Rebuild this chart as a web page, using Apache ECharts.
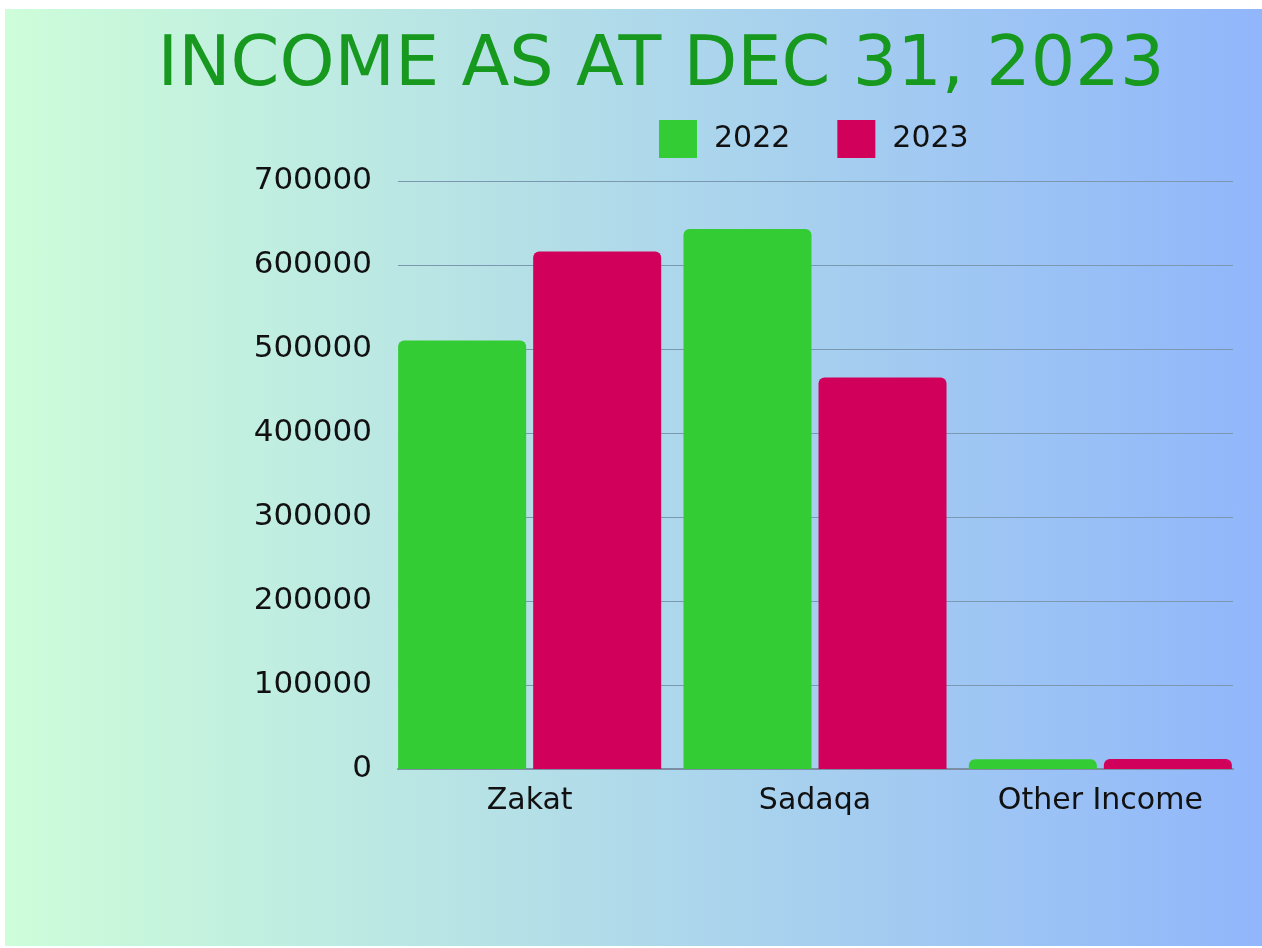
<!DOCTYPE html>
<html><head><meta charset="utf-8">
<script src="https://cdn.jsdelivr.net/npm/echarts/dist/echarts.min.js"></script>
<style>
html,body{margin:0;padding:0;background:#fff;overflow:hidden;}
#bg{position:absolute;left:5px;top:9px;width:1257px;height:937px;background:linear-gradient(to right,#cdfdd9,#91b6fb);}
#chart{position:absolute;left:0;top:0;width:1262px;height:948px;}
</style></head><body>
<div id="bg"></div><div id="chart"></div>
<script>
const titleText = 'INCOME AS AT DEC 31, 2023';
const categories = ['Zakat', 'Sadaqa', 'Other Income'];
const seriesNames = ['2022', '2023'];
const values2022 = [510000, 643000, 11500];
const values2023 = [616000, 466000, 12000];
const yMin = 0, yMax = 700000, yInterval = 100000;

const FONT = 'DejaVu Sans';
const chart = echarts.init(document.getElementById('chart'), null, {renderer: 'canvas'});
chart.setOption({
  backgroundColor: 'transparent',
  animation: false,
  title: {
    text: titleText,
    left: 656, top: 27, textAlign: 'center',
    textStyle: {fontFamily: FONT, fontSize: 70, fontWeight: 'normal', color: '#17981f'}
  },
  legend: {
    data: seriesNames,
    left: 654, top: 115,
    itemWidth: 38, itemHeight: 38, itemGap: 47,
    icon: 'rect',
    textStyle: {fontFamily: FONT, fontSize: 30, color: '#111', padding: [0, 0, 0, 12]}
  },
  grid: [
    {left: 398, right: 29, top: 181, bottom: 179},
    {left: 387, right: 19, top: 181, bottom: 179}
  ],
  xAxis: [
    {type: 'category', gridIndex: 0, data: categories,
     axisLabel: {show: false}, axisTick: {show: false},
     axisLine: {lineStyle: {color: '#7b8ea6', width: 2}}},
    {type: 'category', gridIndex: 1, data: categories,
     axisLine: {show: false}, axisTick: {show: false},
     axisLabel: {fontFamily: FONT, fontSize: 30, color: '#111', margin: 17}}
  ],
  yAxis: [
    {type: 'value', gridIndex: 0, min: yMin, max: yMax, interval: yInterval,
     axisLine: {show: false}, axisTick: {show: false},
     axisLabel: {fontFamily: FONT, fontSize: 31, color: '#111', margin: 26,
                 formatter: function (v) { return String(v); }},
     splitLine: {lineStyle: {color: '#7a99b0', width: 1.2}}},
    {type: 'value', gridIndex: 1, min: yMin, max: yMax, interval: yInterval, show: false,
     splitLine: {show: false}}
  ],
  series: [
    {type: 'bar', name: seriesNames[0], xAxisIndex: 1, yAxisIndex: 1, data: values2022,
     barWidth: 128, barGap: '5.5%',
     itemStyle: {color: '#34cc34', borderRadius: [6, 6, 0, 0]}},
    {type: 'bar', name: seriesNames[1], xAxisIndex: 1, yAxisIndex: 1, data: values2023,
     barWidth: 128, barGap: '5.5%',
     itemStyle: {color: '#d1005a', borderRadius: [6, 6, 0, 0]}}
  ]
});
</script>
</body></html>
